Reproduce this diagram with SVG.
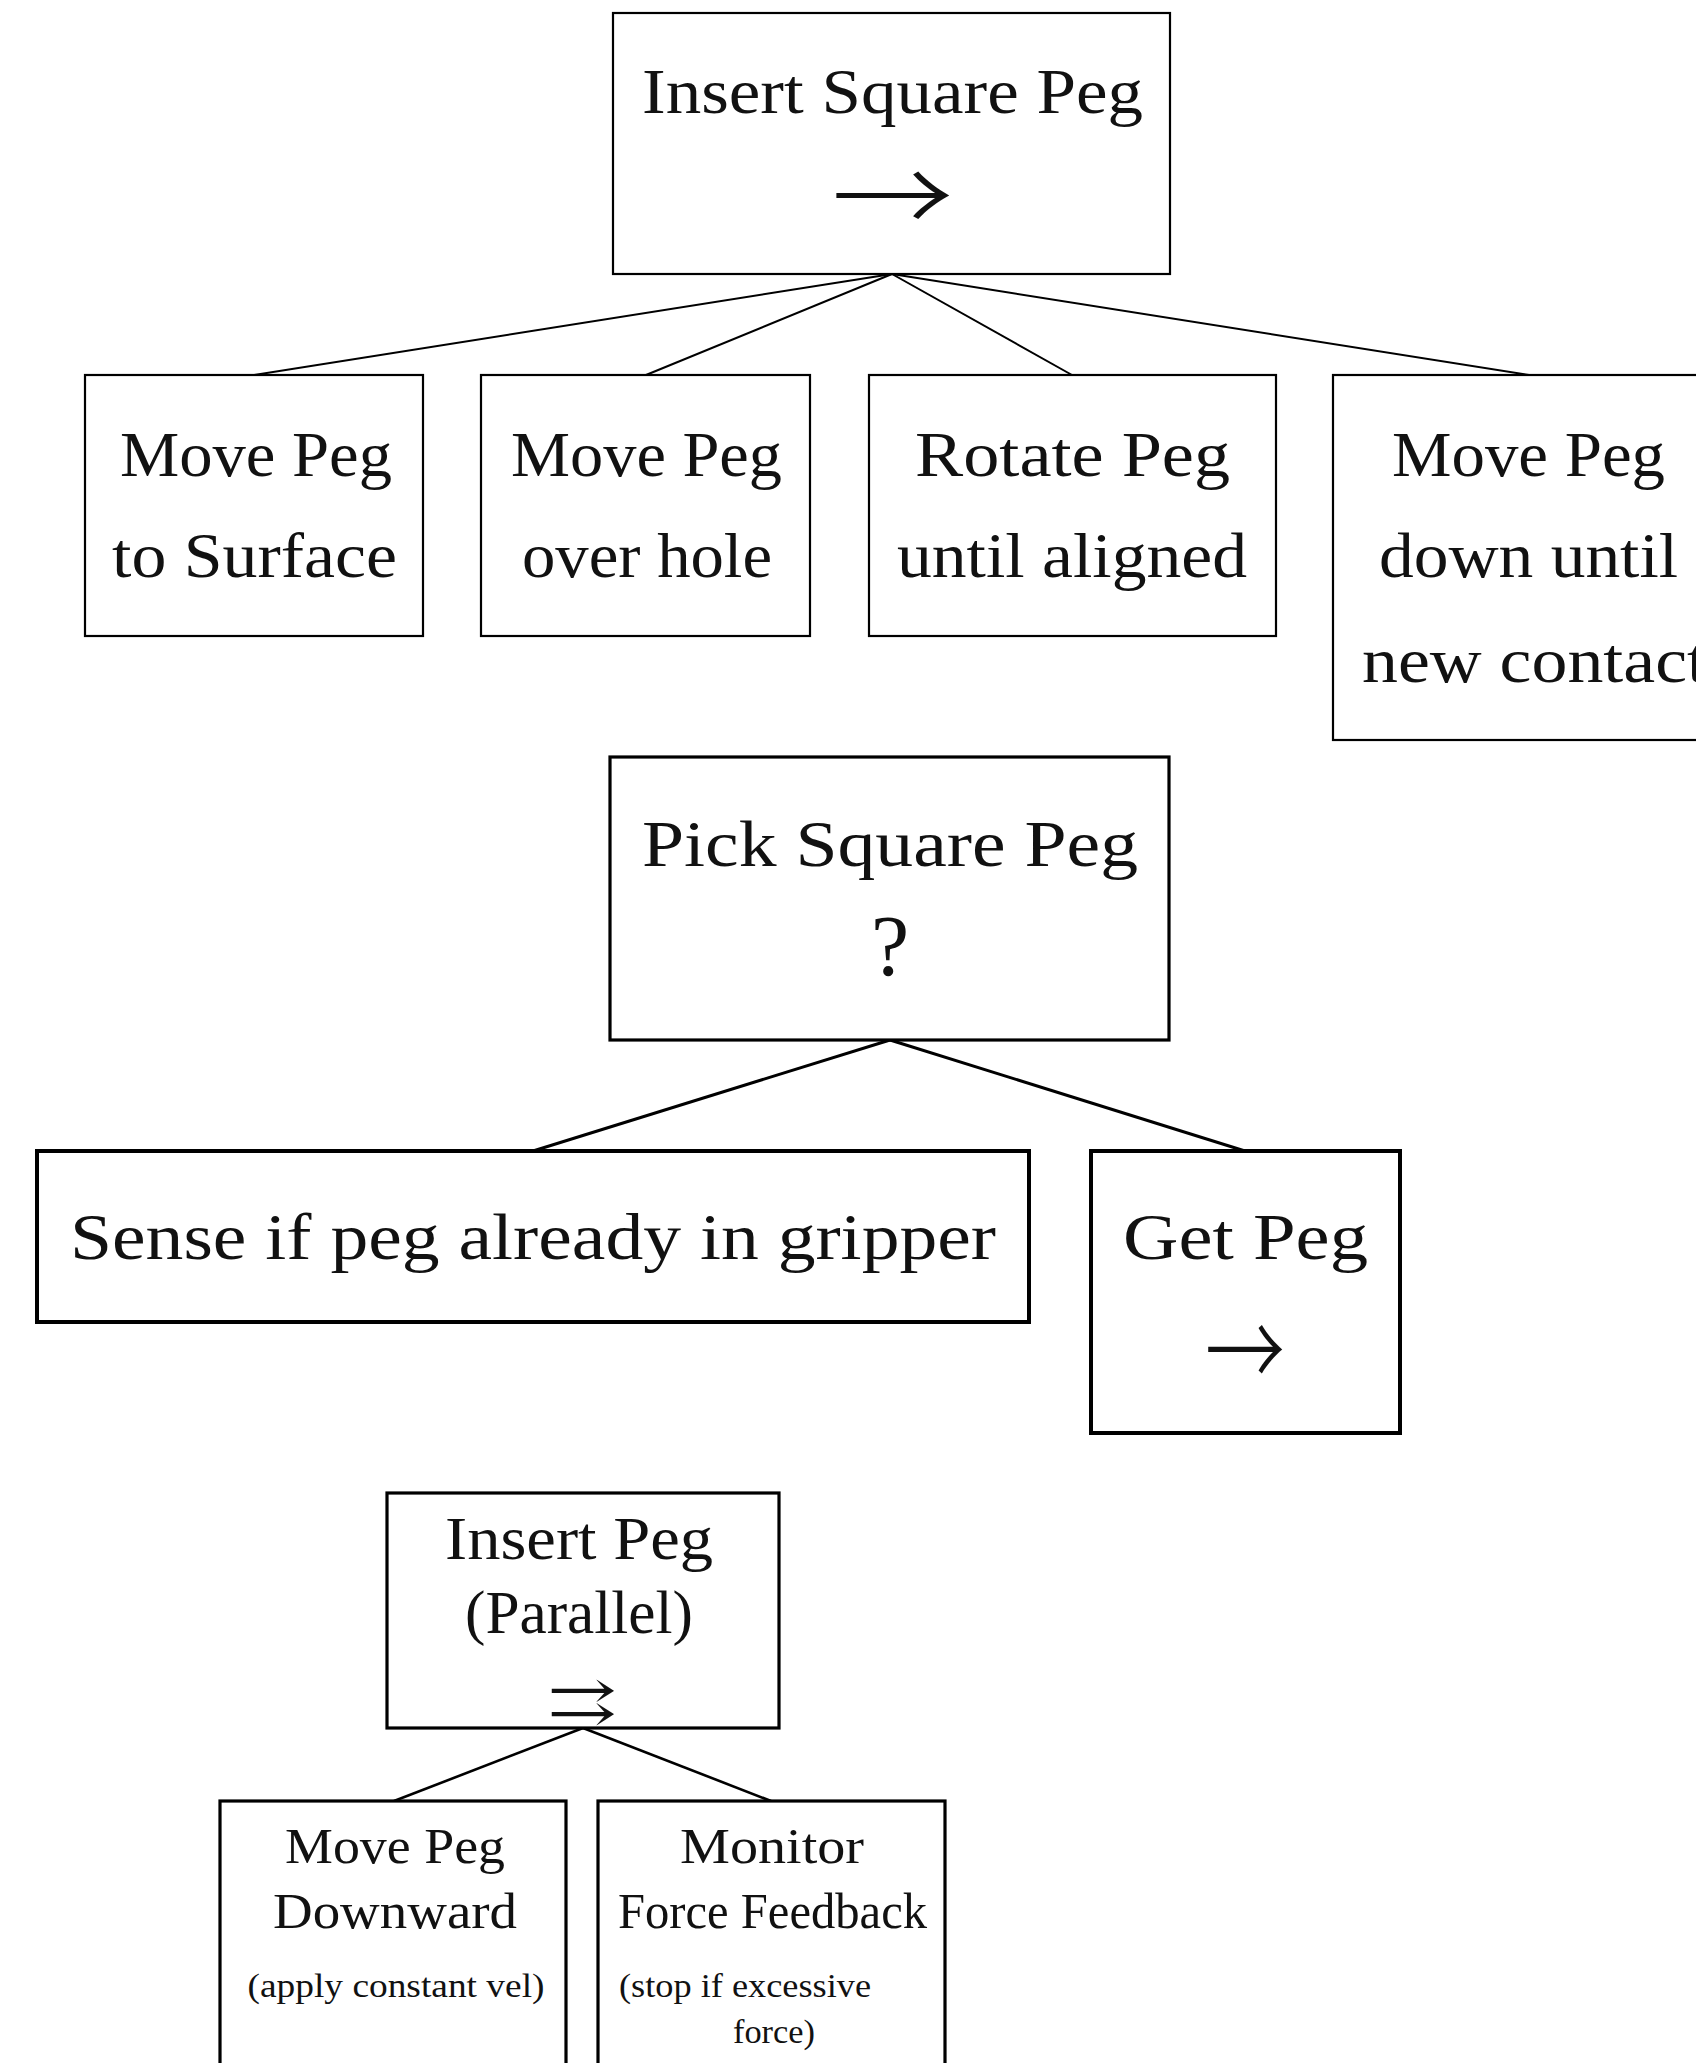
<svg xmlns="http://www.w3.org/2000/svg" width="1696" height="2063" viewBox="0 0 1696 2063">
  <style>
    .box { fill: #ffffff; stroke: #000000; }
    .thin { stroke-width: 2.2; }
    .mid { stroke-width: 3.2; }
    .thick { stroke-width: 4; }
    .lbl { font-family: "Liberation Serif", "DejaVu Serif", serif; fill: #111111; text-anchor: middle; }
    .lblL { font-family: "Liberation Serif", "DejaVu Serif", serif; fill: #111111; text-anchor: start; }
    .arrow { font-family: "Noto Sans CJK JP", "DejaVu Sans", sans-serif; font-weight: 300; fill: #111111; text-anchor: middle; }
    .par { font-family: "DejaVu Serif", "DejaVu Sans", serif; fill: #111111; text-anchor: middle; }
    .edge { stroke: #000000; fill: none; }
  </style>
  <rect width="1696" height="2063" fill="#ffffff"/>

  <!-- connectors -->
  <g id="connectors">
    <g class="edge" stroke-width="2">
      <line x1="892" y1="274" x2="254" y2="375"/>
      <line x1="892" y1="274" x2="646" y2="375"/>
      <line x1="892" y1="274" x2="1072" y2="375"/>
      <line x1="892" y1="274" x2="1529" y2="375"/>
    </g>
    <g class="edge" stroke-width="3">
      <line x1="890" y1="1040" x2="533" y2="1151"/>
      <line x1="890" y1="1040" x2="1245" y2="1151"/>
    </g>
    <g class="edge" stroke-width="2.6">
      <line x1="583" y1="1728" x2="394" y2="1801"/>
      <line x1="583" y1="1728" x2="771" y2="1801"/>
    </g>
  </g>

  <!-- sequence: insert square peg -->
  <g id="insert-square-peg">
    <rect class="box thin" x="613" y="13" width="557" height="261"/>
    <text class="lbl" x="892.5" y="113" font-size="63" textLength="501" lengthAdjust="spacingAndGlyphs">Insert Square Peg</text>
    <text class="arrow" x="892.5" y="234" font-size="102" textLength="122" lengthAdjust="spacingAndGlyphs">→</text>
  </g>
  <g id="move-to-surface">
    <rect class="box thin" x="85" y="375" width="338" height="261"/>
    <text class="lbl" x="256" y="476" font-size="63" textLength="272" lengthAdjust="spacingAndGlyphs">Move Peg</text>
    <text class="lbl" x="254.5" y="577" font-size="63" textLength="285" lengthAdjust="spacingAndGlyphs">to Surface</text>
  </g>
  <g id="move-over-hole">
    <rect class="box thin" x="481" y="375" width="329" height="261"/>
    <text class="lbl" x="646.5" y="476" font-size="63" textLength="271" lengthAdjust="spacingAndGlyphs">Move Peg</text>
    <text class="lbl" x="647" y="577" font-size="63" textLength="250" lengthAdjust="spacingAndGlyphs">over hole</text>
  </g>
  <g id="rotate-until-aligned">
    <rect class="box thin" x="869" y="375" width="407" height="261"/>
    <text class="lbl" x="1072.5" y="476" font-size="63" textLength="315" lengthAdjust="spacingAndGlyphs">Rotate Peg</text>
    <text class="lbl" x="1072" y="577" font-size="63" textLength="350" lengthAdjust="spacingAndGlyphs">until aligned</text>
  </g>
  <g id="move-down-until-contact">
    <rect class="box thin" x="1333" y="375" width="400" height="365"/>
    <text class="lbl" x="1528.5" y="476" font-size="63" textLength="273" lengthAdjust="spacingAndGlyphs">Move Peg</text>
    <text class="lbl" x="1528.5" y="577" font-size="63" textLength="299" lengthAdjust="spacingAndGlyphs">down until</text>
    <text class="lblL" x="1362" y="682" font-size="63" textLength="345" lengthAdjust="spacingAndGlyphs">new contact</text>
  </g>

  <!-- fallback: pick square peg -->
  <g id="pick-square-peg">
    <rect class="box mid" x="610" y="757" width="559" height="283"/>
    <text class="lbl" x="890" y="866" font-size="66" textLength="496" lengthAdjust="spacingAndGlyphs">Pick Square Peg</text>
    <text class="lbl" x="890" y="975" font-size="86">?</text>
  </g>
  <g id="sense-peg">
    <rect class="box thick" x="37" y="1151" width="992" height="171"/>
    <text class="lbl" x="533" y="1259" font-size="66" textLength="926" lengthAdjust="spacingAndGlyphs">Sense if peg already in gripper</text>
  </g>
  <g id="get-peg">
    <rect class="box thick" x="1091" y="1151" width="309" height="282"/>
    <text class="lbl" x="1245.5" y="1259" font-size="66" textLength="245" lengthAdjust="spacingAndGlyphs">Get Peg</text>
    <text class="arrow" x="1245" y="1389" font-size="104" textLength="80" lengthAdjust="spacingAndGlyphs">→</text>
  </g>

  <!-- parallel: insert peg -->
  <g id="insert-peg-parallel">
    <rect class="box mid" x="387" y="1493" width="392" height="235"/>
    <text class="lbl" x="579" y="1559" font-size="62" textLength="268" lengthAdjust="spacingAndGlyphs">Insert Peg</text>
    <text class="lbl" x="579" y="1633" font-size="62" textLength="228" lengthAdjust="spacingAndGlyphs">(Parallel)</text>
    <text class="par" x="582" y="1720" font-size="54" textLength="70" lengthAdjust="spacingAndGlyphs">⇉</text>
  </g>
  <g id="move-peg-downward">
    <rect class="box mid" x="220" y="1801" width="346" height="300"/>
    <text class="lbl" x="395" y="1863" font-size="50" textLength="220" lengthAdjust="spacingAndGlyphs">Move Peg</text>
    <text class="lbl" x="395" y="1928" font-size="50" textLength="244" lengthAdjust="spacingAndGlyphs">Downward</text>
    <text class="lbl" x="396" y="1997" font-size="33" textLength="297" lengthAdjust="spacingAndGlyphs">(apply constant vel)</text>
  </g>
  <g id="monitor-force">
    <rect class="box mid" x="598" y="1801" width="347" height="300"/>
    <text class="lbl" x="772" y="1863" font-size="50" textLength="184" lengthAdjust="spacingAndGlyphs">Monitor</text>
    <text class="lbl" x="772.5" y="1928" font-size="50" textLength="309" lengthAdjust="spacingAndGlyphs">Force Feedback</text>
    <text class="lblL" x="619" y="1997" font-size="33" textLength="252" lengthAdjust="spacingAndGlyphs">(stop if excessive</text>
    <text class="lblL" x="733" y="2043" font-size="33" textLength="82" lengthAdjust="spacingAndGlyphs">force)</text>
  </g>
</svg>
